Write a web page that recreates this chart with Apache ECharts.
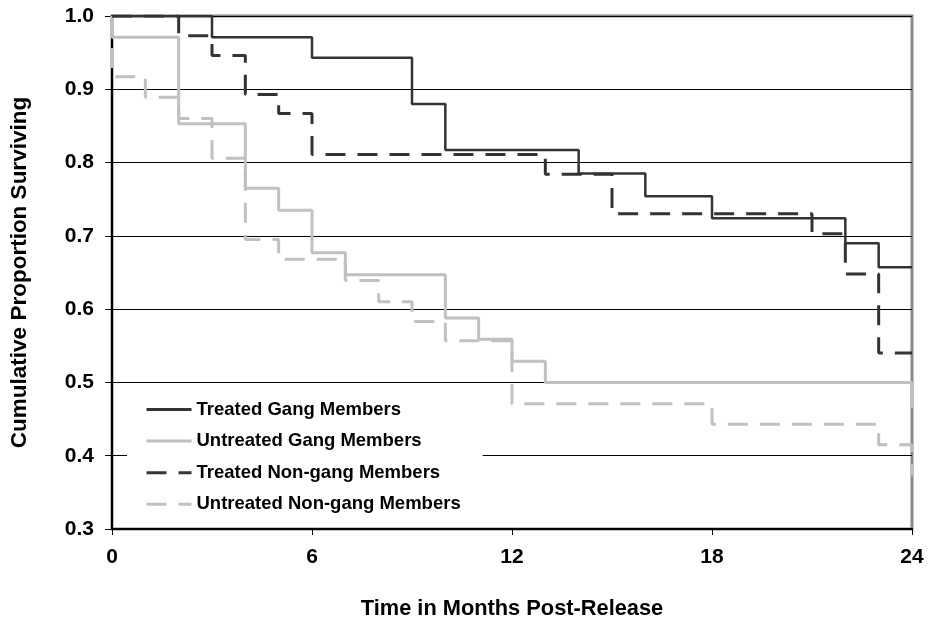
<!DOCTYPE html>
<html>
<head>
<meta charset="utf-8">
<script src="https://cdn.jsdelivr.net/npm/echarts@6/dist/echarts.min.js"></script>
<style>html,body{margin:0;padding:0;background:#fff}#c{width:928px;height:630px}</style>
</head>
<body>
<div id="c"></div>
<script>
const seriesNames = ['Treated Gang Members','Untreated Gang Members','Treated Non-gang Members','Untreated Non-gang Members'];
const xTicks = [0, 6, 12, 18, 24];
const yTicks = [0.3, 0.4, 0.5, 0.6, 0.7, 0.8, 0.9, 1.0];

const treatedGangT = [0, 3, 6, 9, 10, 14, 16, 18, 22, 23, 24];
const treatedGangS = [1.0, 0.971, 0.943, 0.880, 0.817, 0.785, 0.754, 0.724, 0.690, 0.657, 0.657];

const untreatedGangT = [0, 0, 2, 4, 5, 6, 7, 10, 11, 12, 13, 24];
const untreatedGangS = [1.0, 0.971, 0.853, 0.765, 0.735, 0.677, 0.647, 0.588, 0.559, 0.529, 0.500, 0.465];

const treatedNonGangT = [0, 2, 3, 4, 5, 6, 13, 15, 21, 22, 23, 24];
const treatedNonGangS = [1.0, 0.973, 0.946, 0.893, 0.867, 0.811, 0.784, 0.730, 0.703, 0.648, 0.540, 0.540];

const untreatedNonGangT = [0, 0, 1, 2, 3, 4, 5, 7, 8, 9, 10, 12, 18, 23, 24];
const untreatedNonGangS = [1.0, 0.917, 0.889, 0.860, 0.806, 0.695, 0.668, 0.639, 0.610, 0.583, 0.557, 0.471, 0.443, 0.415, 0.373];

const pairs = (t, s) => t.map((v, i) => [v, s[i]]);
const FONT = '"Liberation Sans", Arial, sans-serif';
const DARK = '#333333', LIGHT = '#c0c0c0';

const chart = echarts.init(document.getElementById('c'), null, {renderer: 'canvas'});
chart.setOption({
  animation: false,
  backgroundColor: '#fff',
  textStyle: {fontFamily: FONT},
  grid: {left: 107, right: 16, top: 16, bottom: 101, show: true, borderColor: '#888', borderWidth: 3, backgroundColor: '#fff'},
  legend: {
    orient: 'vertical', left: 127, top: 388,
    padding: [12, 22, 6, 18],
    backgroundColor: '#fff',
    itemWidth: 45, itemHeight: 14, itemGap: 12.6,
    itemStyle: {opacity: 0},
    lineStyle: {width: 3},
    textStyle: {fontFamily: FONT, fontWeight: 'bold', fontSize: 18.5, color: '#000', lineHeight: 18},
    data: seriesNames
  },
  xAxis: {
    type: 'value', min: 0, max: 24, interval: 6,
    name: 'Time in Months Post-Release', nameLocation: 'middle', nameGap: 69,
    nameTextStyle: {fontFamily: FONT, fontWeight: 'bold', fontSize: 21.8, color: '#000'},
    axisLine: {show: true, lineStyle: {color: '#000', width: 2}},
    axisTick: {show: true, length: 6, lineStyle: {color: '#000', width: 1}},
    axisLabel: {margin: 18, fontFamily: FONT, fontWeight: 'bold', fontSize: 21, color: '#000',
      formatter: v => xTicks.includes(v) ? String(v) : ''},
    splitLine: {show: false}
  },
  yAxis: {
    type: 'value', min: 0.3, max: 1.0, interval: 0.1,
    name: 'Cumulative Proportion Surviving', nameLocation: 'middle', nameGap: 81,
    nameTextStyle: {fontFamily: FONT, fontWeight: 'bold', fontSize: 22.5, color: '#000'},
    axisLine: {show: true, lineStyle: {color: '#000', width: 2}},
    axisTick: {show: true, length: 7, lineStyle: {color: '#000', width: 1}},
    axisLabel: {margin: 18, fontFamily: FONT, fontWeight: 'bold', fontSize: 21, color: '#000',
      formatter: v => { const r = Math.round(v * 10) / 10; return yTicks.some(t => Math.abs(t - r) < 1e-9) ? r.toFixed(1) : ''; }},
    splitLine: {show: true, lineStyle: {color: '#000', width: 1}}
  },
  series: [
    {name: seriesNames[1], type: 'line', step: 'end', symbol: 'none', z: 2,
      data: pairs(untreatedGangT, untreatedGangS), lineStyle: {color: LIGHT, width: 3, type: 'solid'}, itemStyle: {color: LIGHT}},
    {name: seriesNames[3], type: 'line', step: 'end', symbol: 'none', z: 2,
      data: pairs(untreatedNonGangT, untreatedNonGangS), lineStyle: {color: LIGHT, width: 3, type: [20, 12]}, itemStyle: {color: LIGHT}},
    {name: seriesNames[2], type: 'line', step: 'end', symbol: 'none', z: 3,
      data: pairs(treatedNonGangT, treatedNonGangS), lineStyle: {color: DARK, width: 3, type: [20, 12]}, itemStyle: {color: DARK}},
    {name: seriesNames[0], type: 'line', step: 'end', symbol: 'none', z: 3,
      data: pairs(treatedGangT, treatedGangS), lineStyle: {color: DARK, width: 2.5, type: 'solid'}, itemStyle: {color: DARK}}
  ]
});
</script>
</body>
</html>
